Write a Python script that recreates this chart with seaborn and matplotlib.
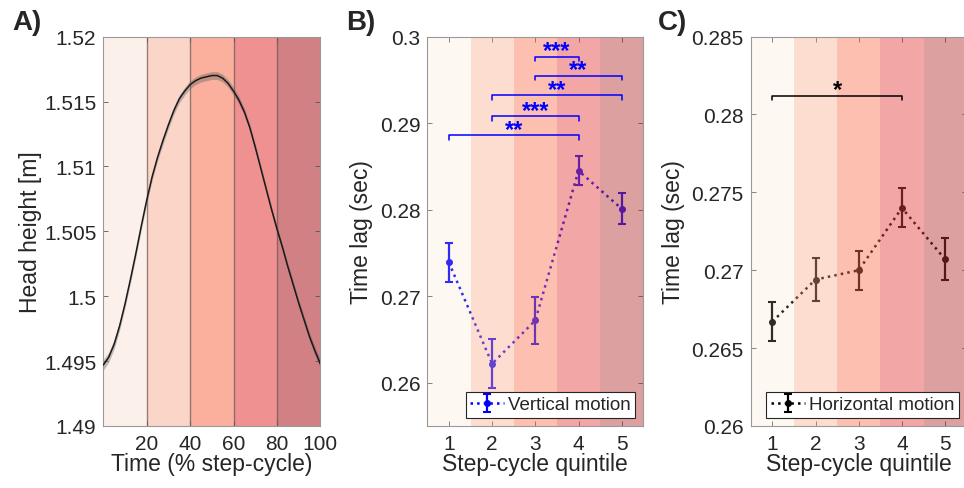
import matplotlib
matplotlib.use('Agg')
import matplotlib.pyplot as plt
import seaborn as sns

# Panel A: mean head height across the step cycle
cycle_pct = [0, 2.5, 5, 7.5, 10, 12.5, 15, 17.5, 20, 22.5, 25, 27.5, 30, 32.5, 35, 37.5, 40, 42.5, 45, 47.5,
             50, 52.5, 55, 57.5, 60, 62.5, 65, 67.5, 70, 72.5, 75, 77.5, 80, 82.5, 85, 87.5, 90, 92.5, 95,
             97.5, 100]
head_mean = [1.4947, 1.4953, 1.4963, 1.4977, 1.4994, 1.5013, 1.5033, 1.5054, 1.5074, 1.5092, 1.5107,
             1.5120, 1.5132, 1.5143, 1.5152, 1.5158, 1.5163, 1.5166, 1.5168, 1.5169, 1.5170, 1.5170,
             1.5168, 1.5164, 1.5158, 1.5151, 1.5142, 1.5130, 1.5115, 1.5099, 1.5083, 1.5067, 1.5052,
             1.5038, 1.5023, 1.5009, 1.4995, 1.4982, 1.4969, 1.4958, 1.4948]
head_sd = [0.0004, 0.00038, 0.00035, 0.00032, 0.0003, 0.0003, 0.0003, 0.00029, 0.00028, 0.00028, 0.00028,
           0.00028, 0.00028, 0.00029, 0.0003, 0.0003, 0.0003, 0.0003, 0.0003, 0.0003, 0.0003, 0.0003,
           0.0003, 0.0003, 0.0003, 0.00029, 0.00028, 0.00026, 0.00025, 0.00025, 0.00025, 0.00025, 0.00025,
           0.00025, 0.00025, 0.00026, 0.00028, 0.00029, 0.0003, 0.00033, 0.00036]
a_xticks = [20, 40, 60, 80, 100]
a_yticks = [1.49, 1.495, 1.5, 1.505, 1.51, 1.515, 1.52]
a_yticklabels = ['1.49', '1.495', '1.5', '1.505', '1.51', '1.515', '1.52']

# Panels B and C: time lag per step-cycle quintile
quintiles = [1, 2, 3, 4, 5]
vert_lag = [0.2739, 0.2622, 0.2672, 0.2845, 0.2801]
vert_err = [0.0023, 0.0028, 0.0027, 0.0017, 0.0018]
horiz_lag = [0.2667, 0.2694, 0.2700, 0.2740, 0.2707]
horiz_err = [0.00125, 0.0014, 0.00124, 0.00125, 0.00134]
b_yticks = [0.26, 0.27, 0.28, 0.29, 0.3]
b_yticklabels = ['0.26', '0.27', '0.28', '0.29', '0.3']
c_yticks = [0.26, 0.265, 0.27, 0.275, 0.28, 0.285]
c_yticklabels = ['0.26', '0.265', '0.27', '0.275', '0.28', '0.285']

# significance brackets
vert_sig_pairs = [(1, 4), (2, 4), (2, 5), (3, 5), (3, 4)]
vert_sig_y = [0.2886, 0.2908, 0.2932, 0.2955, 0.2977]
vert_sig_labels = ['**', '***', '**', '**', '***']
horiz_sig_pairs = [(1, 4)]
horiz_sig_y = [0.2812]
horiz_sig_labels = ['*']

# colours of the quintile bands
a_band_colors = ['#FCF0EA', '#FBD5C8', '#FBB09D', '#EE9190', '#D18084']
bc_band_colors = ['#FADCC3', '#FCAA89', '#FB7450', '#E44242', '#B53535']
bc_band_alpha = [0.2, 0.4, 0.45, 0.47, 0.47]

sns.set_style('ticks')
plt.rcParams['font.family'] = ['Liberation Sans', 'DejaVu Sans']

fig = plt.figure(figsize=(9.64, 4.89), dpi=100)
W, H = 964, 489


def add_axes(left, right, top=37.6, bottom=427.0):
    return fig.add_axes([left / W, 1 - bottom / H, (right - left) / W, (bottom - top) / H])


def style_axis(ax):
    ax.tick_params(direction='in', length=3.5, width=0.6, color='#555555', labelcolor='#262626',
                   labelsize=15, top=True, right=True, pad=5)
    ax.tick_params(axis='x', pad=6)
    for s in ax.spines.values():
        s.set_color('#999999')
        s.set_linewidth(0.8)


ax_a = add_axes(103.3, 320.3)
ax_b = add_axes(427.3, 643.3)
ax_c = add_axes(750.7, 966.7)

# ---- A ----
for i, c in enumerate(a_band_colors):
    ax_a.axvspan(i * 20, (i + 1) * 20, color=c, lw=0, zorder=0.5)
for x in a_xticks[:-1]:
    ax_a.axvline(x, color='#6e5858', lw=1.0, alpha=0.7, zorder=0.6)
lo = [m - s for m, s in zip(head_mean, head_sd)]
hi = [m + s for m, s in zip(head_mean, head_sd)]
ax_a.fill_between(cycle_pct, lo, hi, color='#606060', alpha=0.4, lw=0, zorder=2)
sns.lineplot(x=cycle_pct, y=head_mean, color='#1a1a1a', lw=1.1, ax=ax_a, zorder=3)
ax_a.set_xlim(0, 100)
ax_a.set_ylim(1.49, 1.52)
ax_a.set_xticks(a_xticks)
ax_a.set_yticks(a_yticks)
ax_a.set_yticklabels(a_yticklabels)
style_axis(ax_a)
ax_a.set_xlabel('Time (% step-cycle)', fontsize=16.5, color='#262626')
ax_a.set_ylabel('Head height [m]', fontsize=16.5, color='#262626')
ax_a.yaxis.set_label_coords(-0.282, 0.5)
ax_a.xaxis.set_label_coords(0.5, -0.066)


def quintile_panel(ax, lag, err, color, label, pairs, ys, labels, ylim, yticks, yticklabels, labx):
    for i, (c, a) in enumerate(zip(bc_band_colors, bc_band_alpha)):
        ax.axvspan(i + 0.5, i + 1.5, color=c, alpha=a, lw=0, zorder=1.5)
    ax.errorbar(quintiles, lag, yerr=err, color=color, ls=':', lw=1.8, marker='o', ms=4,
                capsize=3, capthick=1.5, elinewidth=1.6, label=label, zorder=1)
    for (x1, x2), y, t in zip(pairs, ys, labels):
        h = (ylim[1] - ylim[0]) * 0.012
        ax.plot([x1, x1, x2, x2], [y - h, y, y, y - h], color=color, lw=1.1, zorder=4)
        ax.annotate(t, ((x1 + x2) / 2, y), xytext=(0, -0.5), textcoords='offset points',
                    ha='center', va='baseline', fontsize=17, fontweight='bold', color=color, zorder=4)
    ax.set_xlim(0.5, 5.5)
    ax.set_ylim(*ylim)
    ax.set_xticks(quintiles)
    ax.set_yticks(yticks)
    ax.set_yticklabels(yticklabels)
    style_axis(ax)
    ax.set_xlabel('Step-cycle quintile', fontsize=16.5, color='#262626')
    ax.set_ylabel('Time lag (sec)', fontsize=16.5, color='#262626')
    ax.yaxis.set_label_coords(labx, 0.5)
    ax.xaxis.set_label_coords(0.5, -0.066)
    leg = ax.legend(loc='lower right', fontsize=13.5, frameon=True, fancybox=False, borderpad=0.25,
                    handlelength=1.8, handletextpad=0.2, borderaxespad=0.42)
    leg.get_frame().set_edgecolor('#262626')
    leg.get_frame().set_linewidth(0.8)
    leg.get_frame().set_alpha(1)


quintile_panel(ax_b, vert_lag, vert_err, '#0000ff', 'Vertical motion', vert_sig_pairs, vert_sig_y,
               vert_sig_labels, (0.255, 0.3), b_yticks, b_yticklabels, -0.251)
quintile_panel(ax_c, horiz_lag, horiz_err, '#000000', 'Horizontal motion', horiz_sig_pairs, horiz_sig_y,
               horiz_sig_labels, (0.26, 0.285), c_yticks, c_yticklabels, -0.304)

for lab, x in [('A)', 12), ('B)', 346), ('C)', 658)]:
    fig.text(x / W, 1 - 10 / H, lab, fontsize=20, fontweight='bold', va='top', ha='left')

fig.savefig('out.png', dpi=100)
